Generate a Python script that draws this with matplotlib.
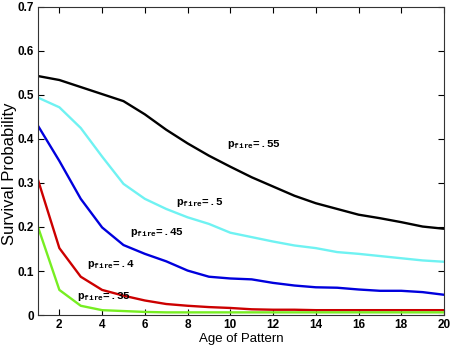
import matplotlib
matplotlib.use('Agg')
import matplotlib.pyplot as plt
import numpy as np

# data
age = np.arange(1, 21)
p55 = [0.543, 0.534, 0.518, 0.502, 0.486, 0.456, 0.421, 0.390, 0.362, 0.337,
       0.313, 0.292, 0.271, 0.254, 0.241, 0.228, 0.220, 0.211, 0.201, 0.196]
p50 = [0.494, 0.472, 0.425, 0.360, 0.298, 0.264, 0.241, 0.222, 0.207, 0.187,
       0.177, 0.167, 0.158, 0.152, 0.143, 0.139, 0.134, 0.129, 0.124, 0.121]
p45 = [0.430, 0.350, 0.264, 0.199, 0.159, 0.139, 0.122, 0.101, 0.087, 0.083,
       0.081, 0.073, 0.067, 0.063, 0.062, 0.058, 0.055, 0.055, 0.052, 0.046]
p40 = [0.307, 0.152, 0.087, 0.057, 0.044, 0.033, 0.025, 0.021, 0.018, 0.016,
       0.013, 0.012, 0.012, 0.011, 0.011, 0.011, 0.011, 0.011, 0.011, 0.011]
p35 = [0.200, 0.057, 0.021, 0.011, 0.009, 0.007, 0.006, 0.006, 0.006, 0.006,
       0.006, 0.006, 0.006, 0.006, 0.006, 0.006, 0.006, 0.006, 0.006, 0.006]

series = [p55, p50, p45, p40, p35]
colors = ['black', '#6ff2f2', '#0000dd', '#cc0000', '#77ee22']
names = ['.55', '.5', '.45', '.4', '.35']
# label anchor (age, probability)
label_pos = [(9.85, 0.382), (7.46, 0.25), (5.29, 0.182), (3.29, 0.11), (2.83, 0.036)]

plt.rcParams['mathtext.fontset'] = 'custom'
plt.rcParams['mathtext.tt'] = 'Liberation Mono:bold'
plt.rcParams['mathtext.rm'] = 'Liberation Mono:bold'

fig = plt.figure(figsize=(4.54, 3.48), dpi=100)
ax = fig.add_axes([0.0837, 0.0948, 0.8943, 0.8852])

for y, c in zip(series, colors):
    ax.plot(age, y, color=c, linewidth=1.7)

for (lx, ly), n in zip(label_pos, names):
    ax.text(lx, ly, r'$\mathtt{p}_{\mathtt{fire}}$=' + n,
            fontsize=8, va='baseline', ha='left',
            family='Liberation Mono', fontweight='bold')

ax.set_xlim(1, 20)
ax.set_ylim(0, 0.7)
ax.set_xticks(np.arange(2, 21, 2))
ax.set_yticks(np.arange(0, 0.71, 0.1))
ax.set_yticklabels(['0', '0.1', '0.2', '0.3', '0.4', '0.5', '0.6', '0.7'])
ax.tick_params(direction='in', top=True, right=True, length=4, width=0.8,
               labelsize=8.5, pad=3)
for lab in ax.get_xticklabels() + ax.get_yticklabels():
    lab.set_fontweight('bold')
    lab.set_fontfamily('Liberation Sans')
for s in ax.spines.values():
    s.set_linewidth(0.8)
    s.set_color('#333333')

ax.set_xlabel('Age of Pattern', fontsize=9.5, family='Liberation Sans', labelpad=1)
ax.set_ylabel('Survival Probability', fontsize=12, family='Liberation Sans',
              va='center')
ax.yaxis.set_label_coords(-0.071, 0.46)

plt.savefig('out.png', dpi=100)
